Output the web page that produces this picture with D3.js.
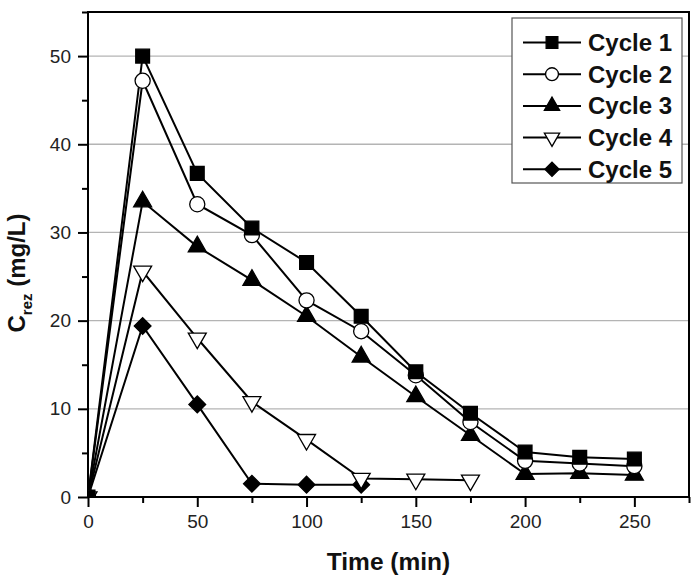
<!DOCTYPE html>
<html><head><meta charset="utf-8">
<script src="https://cdn.jsdelivr.net/npm/d3@7"></script>
<style>body{margin:0;background:#fff}svg{display:block}</style>
</head><body>
<svg id="chart" width="700" height="581"></svg>
<script>
const times = [0, 25, 50, 75, 100, 125, 150, 175, 200, 225, 250];
const cycle1 = [0, 50.0, 36.7, 30.5, 26.6, 20.5, 14.2, 9.5, 5.1, 4.5, 4.3];
const cycle2 = [0, 47.2, 33.2, 29.7, 22.3, 18.8, 13.8, 8.5, 4.1, 3.8, 3.5];
const cycle3 = [0, 33.5, 28.4, 24.6, 20.5, 15.9, 11.4, 7.0, 2.6, 2.7, 2.5];
const cycle4 = [0, 25.6, 18.0, 10.8, 6.5, 2.1, 2.0, 1.9];
const cycle5 = [0, 19.4, 10.5, 1.5, 1.4, 1.4];
const seriesNames = ["Cycle 1", "Cycle 2", "Cycle 3", "Cycle 4", "Cycle 5"];
const seriesValues = [cycle1, cycle2, cycle3, cycle4, cycle5];
const markerShapes = ["square", "circle", "triangle", "triangleDown", "diamond"];
const markerFilled = [true, false, true, false, true];
const xTicks = [0, 50, 100, 150, 200, 250];
const yTicks = [0, 10, 20, 30, 40, 50];

const svg = d3.select("#chart");
const m = {left: 88, top: 12, right: 689, bottom: 497};
const x = d3.scaleLinear().domain([0, 275]).range([m.left, m.right]);
const y = d3.scaleLinear().domain([0, 55]).range([m.bottom, m.top]);
const font = "'Liberation Sans', Arial, sans-serif";

// grid
svg.append("g").selectAll("line").data(yTicks.filter(d => d > 0)).join("line")
  .attr("x1", m.left).attr("x2", m.right)
  .attr("y1", d => y(d)).attr("y2", d => y(d))
  .attr("stroke", "#b4b4b4").attr("stroke-width", 1.3);

// axes
const xAxis = d3.axisBottom(x).tickValues(xTicks).tickSize(10).tickPadding(8);
const gx = svg.append("g").attr("transform", `translate(0,${m.bottom})`).call(xAxis);
const xMinor = d3.axisBottom(x).tickValues([25, 75, 125, 175, 225, 275]).tickSize(6).tickFormat("");
const gxm = svg.append("g").attr("transform", `translate(0,${m.bottom})`).call(xMinor);
const yAxis = d3.axisLeft(y).tickValues(yTicks).tickSize(10).tickPadding(7);
const gy = svg.append("g").attr("transform", `translate(${m.left},0)`).call(yAxis);
const yMinor = d3.axisLeft(y).tickValues([5, 15, 25, 35, 45, 55]).tickSize(6).tickFormat("");
const gym = svg.append("g").attr("transform", `translate(${m.left},0)`).call(yMinor);
[gx, gxm, gy, gym].forEach(g => {
  g.select(".domain").remove();
  g.selectAll("line").attr("stroke", "#000").attr("stroke-width", 2);
  g.selectAll("text").attr("font-family", font).attr("font-size", 19).attr("fill", "#222");
});

// frame
svg.append("rect").attr("x", m.left).attr("y", m.top)
  .attr("width", m.right - m.left).attr("height", m.bottom - m.top)
  .attr("fill", "none").attr("stroke", "#000").attr("stroke-width", 2);

// clip
svg.append("clipPath").attr("id", "clip").append("rect")
  .attr("x", m.left).attr("y", m.top).attr("width", m.right - m.left).attr("height", m.bottom - m.top);

const symType = {
  square: d3.symbolSquare, circle: d3.symbolCircle, triangle: d3.symbolTriangle,
  triangleDown: d3.symbolTriangle, diamond: d3.symbolSquare
};
const symSize = {square: 190, circle: 180, triangle: 140, triangleDown: 140, diamond: 140};
function drawMarker(g, shape, filled, cx, cy, scale) {
  const s = scale || 1;
  let rot = shape === "triangleDown" ? 180 : (shape === "diamond" ? 45 : 0);
  let p = d3.symbol().type(symType[shape]).size(symSize[shape] * s * s)();
  g.append("path").attr("d", p)
    .attr("transform", `translate(${cx},${cy}) rotate(${rot})`)
    .attr("fill", filled ? "#000" : "#fff")
    .attr("stroke", "#000").attr("stroke-width", 1.3);
}

const plot = svg.append("g").attr("clip-path", "url(#clip)");
const line = d3.line().x((d, i) => x(times[i])).y(d => y(d));
for (let k = seriesValues.length - 1; k >= 0; k--) {
  plot.append("path").attr("d", line(seriesValues[k])).attr("fill", "none")
    .attr("stroke", "#000").attr("stroke-width", 2);
}
for (let k = seriesValues.length - 1; k >= 0; k--) {
  seriesValues[k].forEach((v, i) => drawMarker(plot, markerShapes[k], markerFilled[k], x(times[i]), y(v)));
}

// legend
const lg = svg.append("g");
lg.append("rect").attr("x", 512).attr("y", 18).attr("width", 170).attr("height", 165)
  .attr("fill", "#fff").attr("stroke", "#555").attr("stroke-width", 1.2);
seriesNames.forEach((name, k) => {
  const cy = 42.5 + k * 31.7;
  lg.append("line").attr("x1", 523).attr("x2", 581).attr("y1", cy).attr("y2", cy)
    .attr("stroke", "#000").attr("stroke-width", 2);
  drawMarker(lg, markerShapes[k], markerFilled[k], 552, cy, 0.85);
  lg.append("text").attr("x", 588).attr("y", cy + 8.5).text(name)
    .attr("font-family", font).attr("font-weight", "bold").attr("font-size", 24).attr("fill", "#111");
});

// axis titles
svg.append("text").attr("x", (m.left + m.right) / 2).attr("y", 570)
  .attr("text-anchor", "middle").attr("font-family", font).attr("font-weight", "bold")
  .attr("font-size", 24.5).attr("fill", "#111").text("Time (min)");
const yt = svg.append("text").attr("transform", `translate(25,273) rotate(-90)`)
  .attr("text-anchor", "middle").attr("font-family", font).attr("font-weight", "bold")
  .attr("font-size", 24).attr("fill", "#111");
yt.append("tspan").text("C");
yt.append("tspan").attr("font-size", 15).attr("dy", 7).text("rez");
yt.append("tspan").attr("dy", -7).text(" (mg/L)");
</script>
</body></html>
